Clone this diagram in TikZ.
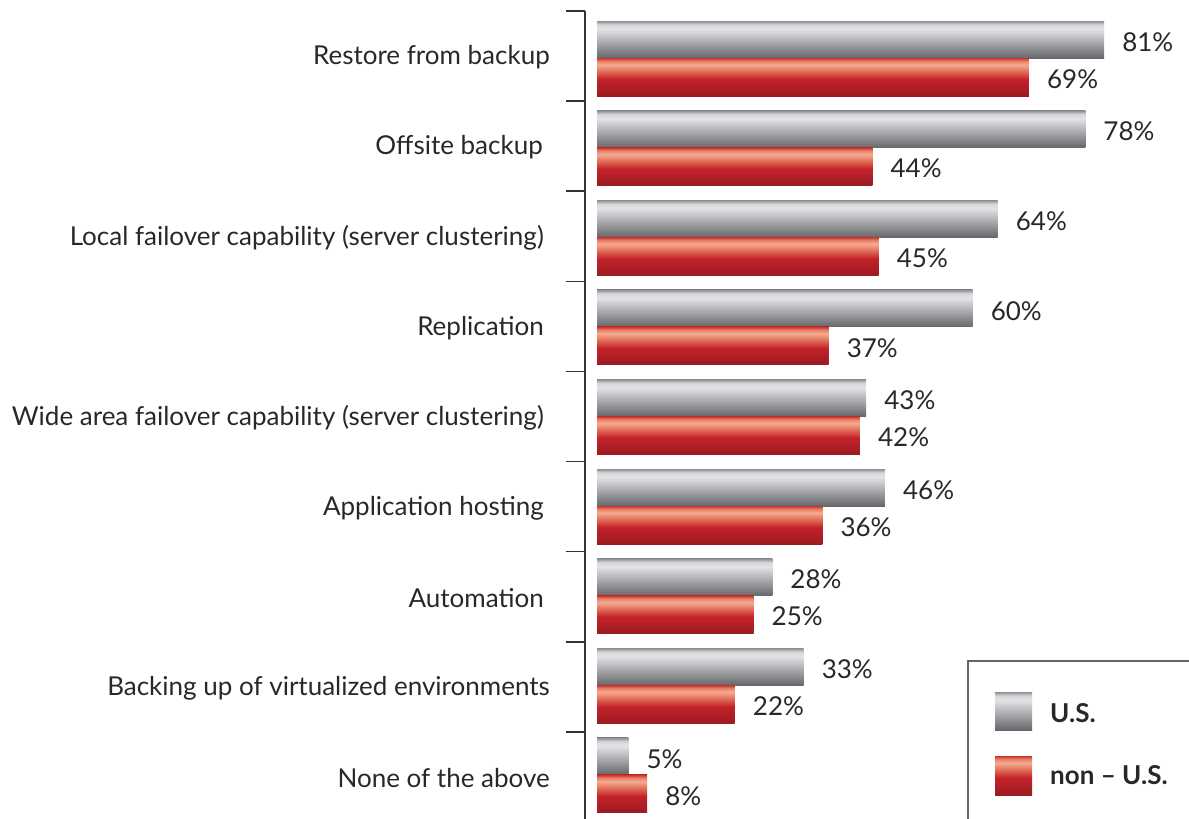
\documentclass[tikz,border=0pt]{standalone}
\usepackage{fontspec}
\setmainfont{Lato}
\definecolor{txt}{HTML}{2A2728}
\definecolor{axis}{HTML}{333333}
\definecolor{gA}{HTML}{66676B}
\definecolor{gB}{HTML}{A5A6AA}
\definecolor{gC}{HTML}{E2E3E5}
\definecolor{gD}{HTML}{D6D7DA}
\definecolor{gE}{HTML}{8E8F93}
\definecolor{rA}{HTML}{9C1B21}
\definecolor{rB}{HTML}{C3222B}
\definecolor{rC}{HTML}{E06A55}
\definecolor{rD}{HTML}{F5AB90}
\definecolor{rE}{HTML}{E98068}
\definecolor{rF}{HTML}{C8332E}
\pgfdeclareverticalshading{usshade}{100bp}{color(0bp)=(gA); color(25bp)=(gA); color(45bp)=(gB); color(64bp)=(gC); color(70bp)=(gD); color(75bp)=(gE); color(100bp)=(gE)}
\pgfdeclareverticalshading{nusshade}{100bp}{color(0bp)=(rA); color(25bp)=(rA); color(47bp)=(rB); color(57bp)=(rC); color(66bp)=(rD); color(71bp)=(rE); color(75bp)=(rF); color(100bp)=(rF)}
\tikzset{
  usbar/.style={shading=usshade},
  nusbar/.style={shading=nusshade},
  cat/.style={anchor=east, inner sep=0pt, text=txt, font=\fontsize{26}{30}\selectfont},
  val/.style={anchor=west, inner sep=0pt, text=txt, font=\fontsize{26}{30}\selectfont},
  leg/.style={anchor=west, inner sep=0pt, text=txt, font=\fontsize{26}{30}\selectfont\bfseries},
  axisline/.style={draw=axis, line width=1.6pt},
}
\begin{document}
\begin{tikzpicture}[x=1pt, y=-1pt]
\useasboundingbox (0,0) rectangle (1189,819);
% axis
\coordinate (axtop) at (585,11);
\coordinate (axbot) at (585,819);
\draw[axisline] (axtop) -- (axbot);
\foreach \i/\name/\us/\nus/\tx in {
  0/{Restore from backup}/81/69/550,
  1/{Offsite backup}/78/44/543,
  2/{Local failover capability (server clustering)}/64/45/544,
  3/{Replication}/60/37/544,
  4/{Wide area failover capability (server clustering)}/43/42/544,
  5/{Application hosting}/46/36/544,
  6/{Automation}/28/25/544,
  7/{Backing up of virtualized environments}/33/22/550,
  8/{None of the above}/5/8/550}{
  \coordinate (tick\i) at (566,11+90.1*\i);
  \draw[axisline] (tick\i) -- (585,11+90.1*\i);
  \node[cat] (c\i) at (\tx,57.5+90.1*\i) {\name};
  \path[usbar] (597,21+89.6*\i) rectangle (597+6.26*\us,58+89.6*\i);
  \path[nusbar] (597,58+89.6*\i) rectangle (597+6.26*\nus,96+89.6*\i);
  \node[val] (u\i) at (597+6.26*\us+18,42+89.6*\i) {\us\%};
  \node[val] (n\i) at (597+6.26*\nus+18,79+89.6*\i) {\nus\%};
}
% legend
\draw[draw=gray!80!black, line width=1.2pt] (968,819) |- (1189,661);
\path[usbar] (995,692) rectangle (1032,730);
\path[nusbar] (995,756) rectangle (1032,795);
\node[leg] (lu) at (1050,713) {U.S.};
\node[leg] (ln) at (1050,775) {non – U.S.};
\end{tikzpicture}
\end{document}
